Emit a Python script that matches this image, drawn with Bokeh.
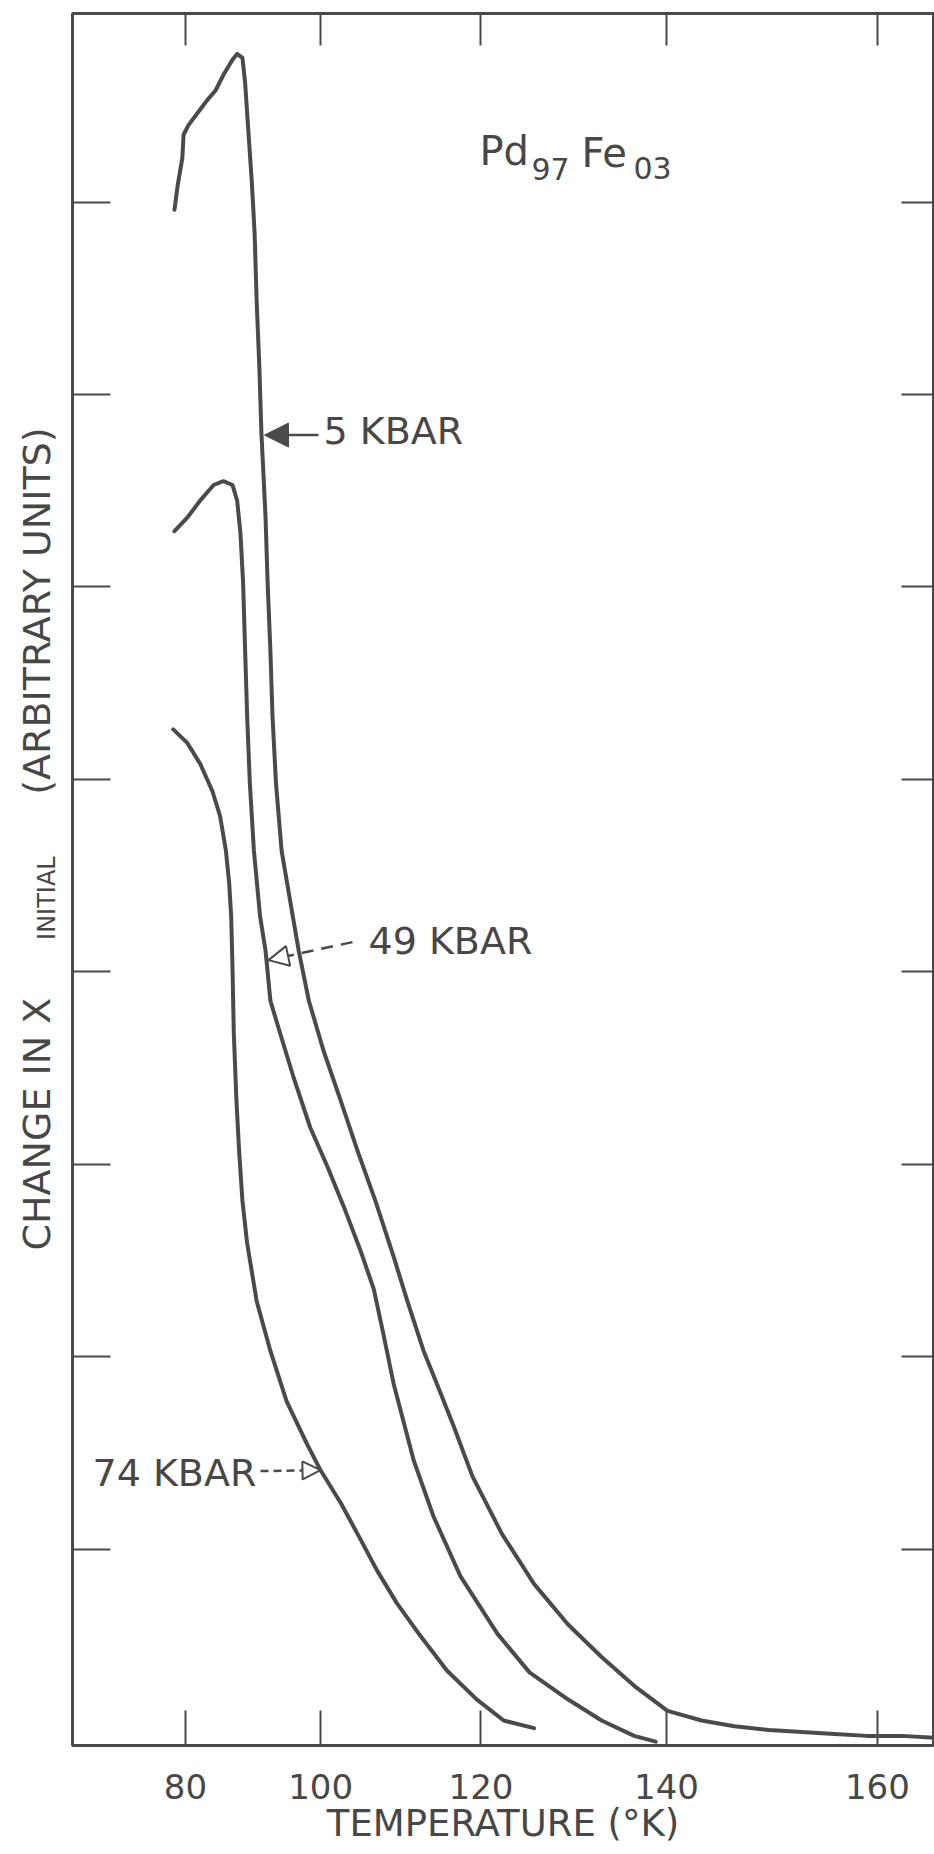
import math
from bokeh.plotting import figure
from bokeh.layouts import row
from bokeh.models import (Range1d, FixedTicker, LinearAxis, CustomJSTickFormatter,
                          Label, Arrow, NormalHead)
from bokeh.embed import file_html
from bokeh.resources import INLINE

# ---------------- data (temperature in K, change in chi, arbitrary units) ----------------
X_TICKS = [80, 100, 120, 140, 160]
Y_TICKS = [1, 2, 3, 4, 5, 6, 7, 8]

T_5KBAR = [78.2, 78.7, 79.5, 79.7, 80.5, 81.9, 83.5, 84.8, 86.0, 87.4, 88.1, 88.9, 89.3, 89.8,
           90.3, 90.7, 91.0, 91.4, 91.7, 92.3, 92.6, 93.0, 93.3, 93.8, 94.6, 95.8, 97.0,
           98.4, 100.4, 102.7, 104.9, 107.2, 109.5, 111.2, 113.2, 114.8, 116.8, 119.0, 122.4,
           126.0, 129.7, 133.3, 136.7, 140.1, 143.5, 146.7, 150.0, 153.1, 156.1, 159.1, 162.2, 165.1]
Y_5KBAR = [7.96, 8.08, 8.23, 8.35, 8.40, 8.46, 8.53, 8.58, 8.66, 8.74, 8.77, 8.75, 8.62, 8.36,
           8.10, 7.84, 7.49, 7.14, 6.80, 6.36, 6.02, 5.67, 5.33, 4.98, 4.63, 4.37, 4.11,
           3.85, 3.59, 3.33, 3.07, 2.81, 2.52, 2.29, 2.03, 1.86, 1.64, 1.38, 1.08,
           0.82, 0.61, 0.44, 0.29, 0.16, 0.11, 0.08, 0.06, 0.05, 0.04, 0.03, 0.03, 0.02]

T_49KBAR = [78.2, 80.3, 82.4, 84.5, 86.0, 87.4, 88.1, 88.6, 89.0, 89.3, 89.6, 90.0, 90.6, 91.5,
            92.3, 93.0, 94.4, 96.3, 98.6, 100.9, 103.1, 105.3, 107.0, 108.2, 109.5, 112.0,
            114.4, 117.6, 121.9, 125.5, 129.7, 133.3, 136.7, 138.9]
Y_49KBAR = [6.29, 6.36, 6.45, 6.53, 6.55, 6.53, 6.45, 6.28, 6.02, 5.67, 5.33, 4.98, 4.63, 4.29,
            4.11, 3.85, 3.68, 3.45, 3.19, 2.99, 2.78, 2.55, 2.35, 2.12, 1.86, 1.46,
            1.17, 0.86, 0.56, 0.36, 0.22, 0.11, 0.03, 0.0]

T_74KBAR = [78.0, 80.3, 82.4, 84.3, 85.5, 86.4, 86.9, 87.2, 87.4, 87.6, 88.0, 88.4, 88.9, 89.6,
            91.0, 93.0, 95.3, 98.1, 100.0, 102.7, 105.3, 107.4, 109.9, 112.8, 116.0, 119.5,
            122.6, 126.0]
Y_74KBAR = [5.26, 5.19, 5.08, 4.94, 4.81, 4.63, 4.46, 4.29, 4.03, 3.68, 3.33, 3.07, 2.81, 2.59,
            2.29, 2.03, 1.77, 1.55, 1.41, 1.24, 1.05, 0.89, 0.72, 0.55, 0.37, 0.22,
            0.11, 0.07]

# ---------------- the recorder's (non-linear) temperature scale ----------------
T_OFFSET = 17.3


def scale_t(t):
    return (t + T_OFFSET) ** 2 / 100.0


T_START, T_END = 59.4, 164.96
Y_START, Y_END = -0.02, 8.98

INK = "#4a4a4a"
TXT = "#474747"
FONT = "DejaVu Sans"

SIDE_W = 60                      # width of the strip holding the y-axis title
FRAME_L, FRAME_B = 72, 1745.4    # page position of the frame's left and bottom edges
LABEL_DY = 12                    # baseline correction for the text labels
SIDE_DY = 101                    # vertical correction for the side strip labels


def sx(px):
    return px - FRAME_L


def sy(py):
    return FRAME_B - py


p = figure(frame_width=861, frame_height=1732, output_backend="svg", toolbar_location=None,
           x_range=Range1d(scale_t(T_START), scale_t(T_END)), y_range=Range1d(Y_START, Y_END),
           min_border_left=FRAME_L - SIDE_W, min_border_right=1, min_border_top=13,
           min_border_bottom=0, x_axis_location=None, y_axis_location=None)
p.xgrid.visible = False
p.ygrid.visible = False
p.background_fill_color = "white"
p.border_fill_color = "white"
p.outline_line_color = INK
p.outline_line_width = 3

for T, Y in ((T_5KBAR, Y_5KBAR), (T_49KBAR, Y_49KBAR), (T_74KBAR, Y_74KBAR)):
    p.line([scale_t(t) for t in T], Y, line_color=INK, line_width=4, line_join="round",
           line_cap="round")

x_ticker = FixedTicker(ticks=[scale_t(t) for t in X_TICKS])
y_ticker = FixedTicker(ticks=Y_TICKS)
blank = CustomJSTickFormatter(code="return '';")


def style_axis(ax, tick_len):
    ax.major_tick_in = tick_len
    ax.major_tick_out = 0
    ax.minor_tick_in = 0
    ax.minor_tick_out = 0
    ax.axis_line_color = None
    ax.major_tick_line_color = INK
    ax.major_tick_line_width = 2


xb = LinearAxis(ticker=x_ticker,
                formatter=CustomJSTickFormatter(code="return (Math.sqrt(tick*100) - %s).toFixed(0);" % T_OFFSET))
style_axis(xb, 35)
xb.major_label_text_font = FONT
xb.major_label_text_font_size = "34px"
xb.major_label_text_color = TXT
xb.major_label_standoff = 28
xb.axis_label = "TEMPERATURE (°K)"
xb.axis_label_text_font = FONT
xb.axis_label_text_font_size = "37px"
xb.axis_label_text_font_style = "normal"
xb.axis_label_text_color = TXT
xb.axis_label_standoff = 0
p.add_layout(xb, "below")

xt = LinearAxis(ticker=x_ticker, formatter=blank)
style_axis(xt, 32)
xt.major_label_text_font_size = "1px"
xt.major_label_standoff = 0
p.add_layout(xt, "above")

yl = LinearAxis(ticker=y_ticker, formatter=blank)
style_axis(yl, 38)
yl.major_label_text_font_size = "1px"
yl.major_label_standoff = 0
p.add_layout(yl, "left")

yr = LinearAxis(ticker=y_ticker, formatter=blank)
style_axis(yr, 32)
yr.major_label_text_font_size = "1px"
yr.major_label_standoff = 0
p.add_layout(yr, "right")


def label(fig, text, x, y, size, align="left", baseline="alphabetic", angle=0.0):
    fig.add_layout(Label(x=x, y=y, x_units="screen", y_units="screen", text=text,
                         text_font=FONT, text_font_size=size, text_color=TXT,
                         text_align=align, text_baseline=baseline, angle=angle))


# ---- strip at the left carrying the y-axis title (with its subscript) ----
side = figure(width=SIDE_W, height=int(FRAME_B), output_backend="svg", toolbar_location=None,
              x_axis_location=None, y_axis_location=None, min_border=0,
              x_range=Range1d(0, 1), y_range=Range1d(0, 1))
side.xgrid.visible = False
side.ygrid.visible = False
side.outline_line_color = None
side.background_fill_color = "white"
side.border_fill_color = "white"
label(side, "CHANGE IN X", 36, FRAME_B - 1125 - SIDE_DY, "38px", align="center",
      baseline="middle", angle=math.pi / 2)
label(side, "INITIAL", 46, FRAME_B - 899 - SIDE_DY, "24px", align="center",
      baseline="middle", angle=math.pi / 2)
label(side, "(ARBITRARY UNITS)", 36, FRAME_B - 612 - SIDE_DY, "38px", align="center",
      baseline="middle", angle=math.pi / 2)

# composition
label(p, "Pd", sx(479), sy(163) + LABEL_DY, "40px")
label(p, "97", sx(531), sy(181) + LABEL_DY, "30px")
label(p, "Fe", sx(581), sy(165) + LABEL_DY, "40px")
label(p, "03", sx(633), sy(180) + LABEL_DY, "30px")

# curve labels
label(p, "5 KBAR", sx(323), sy(443) + LABEL_DY, "38px")
label(p, "49 KBAR", sx(368), sy(953) + LABEL_DY, "38px")
label(p, "74 KBAR", sx(92), sy(1485) + LABEL_DY, "38px")

p.add_layout(Arrow(end=NormalHead(size=24, fill_color=INK, line_color=INK, line_width=1),
                   x_start=sx(318), y_start=sy(435), x_end=sx(264), y_end=sy(435),
                   start_units="screen", end_units="screen", line_color=INK, line_width=2.5))
p.add_layout(Arrow(end=NormalHead(size=20, fill_color="white", line_color=INK, line_width=2),
                   x_start=sx(352), y_start=sy(942), x_end=sx(268), y_end=sy(960),
                   start_units="screen", end_units="screen", line_color=INK, line_width=2.5,
                   line_dash="12 8"))
p.add_layout(Arrow(end=NormalHead(size=18, fill_color="white", line_color=INK, line_width=2),
                   x_start=sx(260), y_start=sy(1471), x_end=sx(320), y_end=sy(1470),
                   start_units="screen", end_units="screen", line_color=INK, line_width=2.5,
                   line_dash="8 5"))

layout = row(side, p, spacing=0)
open("out.html", "w").write(file_html(layout, INLINE))
